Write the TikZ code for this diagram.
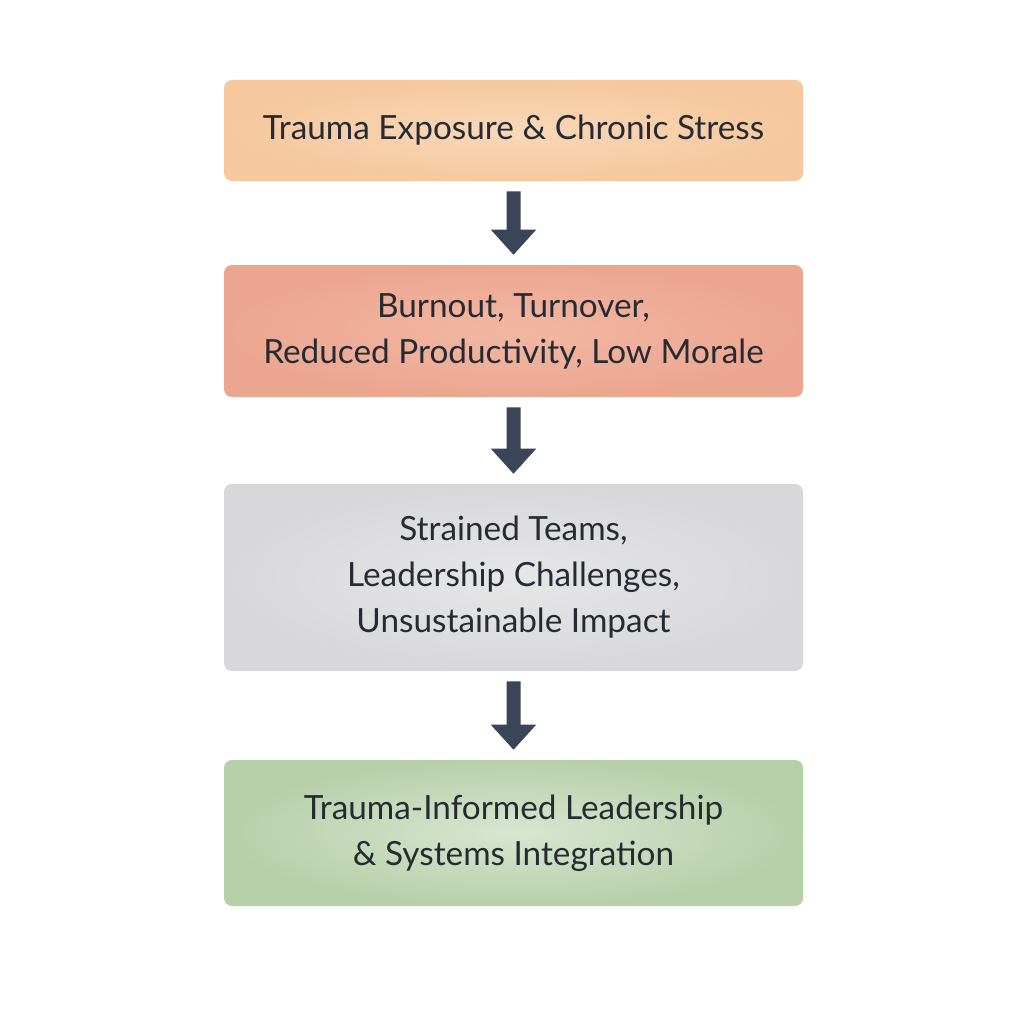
\documentclass[tikz,border=0pt]{standalone}
\usepackage{fontspec}
\setmainfont{Lato}
\usetikzlibrary{positioning}
\definecolor{txt}{HTML}{262B33}
\definecolor{arr}{HTML}{3B4558}
\definecolor{peachO}{HTML}{F6C89D}
\definecolor{peachI}{HTML}{F9D8B8}
\definecolor{salmO}{HTML}{ECA690}
\definecolor{salmI}{HTML}{F2B8A3}
\definecolor{grayO}{HTML}{D8D8DB}
\definecolor{grayI}{HTML}{E6E6E7}
\definecolor{greenO}{HTML}{B6D0A9}
\definecolor{greenI}{HTML}{D8E6D0}
\tikzset{
  box/.style={rounded corners=6pt, minimum width=434.25pt, inner sep=0pt, align=center,
    text=txt, font=\fontsize{25}{34.5}\selectfont},
  flow/.style={draw=none, fill=arr}
}
\begin{document}
\begin{tikzpicture}[x=0.75pt,y=-0.75pt]
\useasboundingbox[fill=white] (0,0) rectangle (1024,1024);
\node[box, minimum height=75.75pt, inner color=peachI, outer color=peachO] (b1) at (513.5,130.5) {Trauma Exposure \& Chronic Stress};
\node[box, minimum height=99pt, inner color=salmI, outer color=salmO] (b2) at (513.5,331) {Burnout, Turnover,\\Reduced Productivity, Low Morale};
\node[box, minimum height=140.25pt, inner color=grayI, outer color=grayO] (b3) at (513.5,577.5) {Strained Teams,\\Leadership Challenges,\\Unsustainable Impact};
\node[box, minimum height=109.5pt, inner color=greenI, outer color=greenO] (b4) at (513.5,833) {Trauma-Informed Leadership\\\& Systems Integration};
\foreach \a/\b in {b1/b2,b2/b3,b3/b4}{
  \coordinate (s) at ([yshift=-7.5pt]\a.south);
  \coordinate (t) at ([yshift=7.5pt]\b.north);
  \fill[flow] ([xshift=-5.25pt]s) -- ([xshift=5.25pt]s) -- ([xshift=5.25pt,yshift=18.75pt]t) -- ([xshift=17pt,yshift=18.75pt]t) -- (t) -- ([xshift=-17pt,yshift=18.75pt]t) -- ([xshift=-5.25pt,yshift=18.75pt]t) -- cycle;
}
\end{tikzpicture}
\end{document}
